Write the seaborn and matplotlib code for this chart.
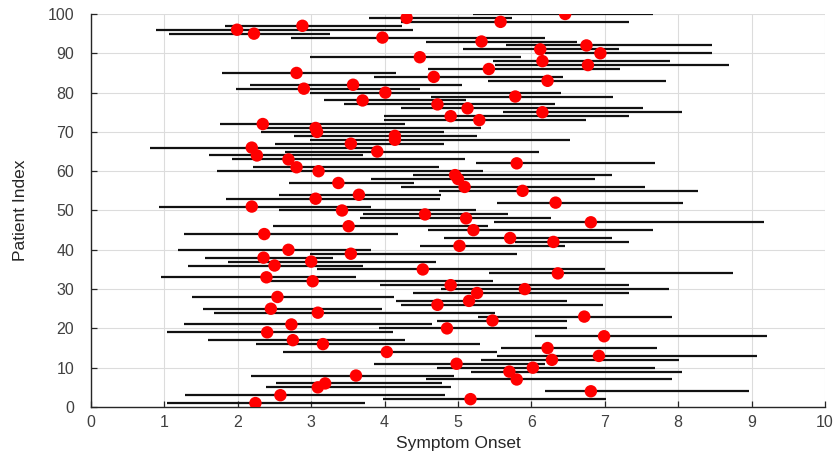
import matplotlib
matplotlib.use("Agg")
import matplotlib.pyplot as plt
import seaborn as sns
import numpy as np
import pandas as pd

# Patient index, estimated symptom onset and its uncertainty interval
patient = list(range(1, 101))
onset = [2.24, 5.17, 2.58, 6.81, 3.09, 3.19, 5.80, 3.61, 5.70, 6.02,
         4.98, 6.28, 6.92, 4.03, 6.22, 3.16, 2.75, 6.99, 2.40, 4.85,
         2.73, 5.47, 6.72, 3.09, 2.45, 4.72, 5.15, 2.54, 5.26, 5.91,
         4.90, 3.02, 2.39, 6.36, 4.52, 2.50, 3.00, 2.35, 3.54, 2.69,
         5.02, 6.30, 5.71, 2.36, 5.21, 3.51, 6.81, 5.11, 4.55, 3.42,
         2.19, 6.33, 3.06, 3.65, 5.88, 5.09, 3.37, 5.00, 4.96, 3.10,
         2.80, 5.80, 2.69, 2.26, 3.90, 2.19, 3.54, 4.14, 4.14, 3.08,
         3.06, 2.34, 5.29, 4.90, 6.15, 5.13, 4.72, 3.70, 5.78, 4.01,
         2.90, 3.57, 6.22, 4.67, 2.80, 5.42, 6.77, 6.15, 4.48, 6.94,
         6.12, 6.75, 5.32, 3.97, 2.22, 1.99, 2.88, 5.58, 4.30, 6.46]
lower = [1.03, 3.98, 1.28, 6.18, 2.39, 2.52, 4.56, 2.18, 5.18, 4.72,
         3.85, 5.32, 5.53, 2.62, 5.58, 2.25, 1.59, 6.05, 1.04, 3.92,
         1.27, 4.72, 5.27, 1.68, 1.52, 4.23, 4.15, 1.37, 4.38, 4.77,
         3.94, 2.39, 0.96, 5.42, 3.08, 1.32, 1.87, 1.55, 2.98, 1.19,
         4.48, 5.78, 4.81, 1.26, 4.59, 2.48, 5.49, 3.66, 3.70, 2.56,
         0.93, 5.53, 1.84, 2.56, 4.74, 4.23, 2.70, 3.81, 4.39, 1.72,
         2.21, 5.24, 1.92, 1.61, 2.64, 0.81, 2.51, 2.99, 2.77, 2.31,
         2.31, 1.76, 3.99, 3.99, 5.61, 4.22, 3.44, 3.17, 4.63, 2.98,
         1.97, 2.17, 5.41, 3.86, 1.78, 4.59, 5.50, 5.47, 2.99, 6.19,
         5.07, 5.66, 4.57, 2.73, 1.06, 0.88, 1.83, 4.22, 3.79, 5.20]
upper = [3.73, 7.01, 4.82, 8.97, 4.90, 4.78, 7.92, 4.95, 8.05, 7.68,
         6.19, 8.01, 9.08, 5.53, 7.71, 5.30, 4.28, 9.21, 4.12, 6.49,
         4.65, 6.49, 7.92, 5.50, 3.97, 6.98, 6.48, 4.13, 7.33, 7.87,
         7.33, 5.47, 3.61, 8.75, 7.00, 3.71, 4.70, 3.30, 5.80, 3.81,
         6.46, 7.33, 7.10, 4.18, 7.66, 5.41, 9.17, 6.27, 5.68, 5.24,
         3.81, 8.07, 4.75, 4.77, 8.27, 7.55, 4.40, 6.87, 7.10, 5.34,
         4.74, 7.68, 5.09, 3.70, 6.10, 3.90, 4.81, 6.53, 5.26, 4.81,
         5.32, 4.28, 6.75, 7.33, 8.05, 7.52, 6.32, 5.11, 7.11, 6.40,
         4.48, 5.06, 7.83, 6.43, 4.16, 7.21, 8.69, 7.89, 5.86, 8.46,
         7.20, 8.46, 6.62, 6.19, 3.26, 4.39, 4.24, 7.33, 5.73, 7.65]

x_ticks = list(range(0, 11))
y_ticks = list(range(0, 101, 10))

df = pd.DataFrame({"patient": patient, "onset": onset,
                   "lower": lower, "upper": upper})

sns.set_theme(style="white")
plt.rcParams["font.family"] = ["Liberation Sans", "DejaVu Sans"]

fig = plt.figure(figsize=(8.39, 4.59), dpi=100)
ax = fig.add_axes([0.1085, 0.1133, 0.8748, 0.8562])

# interval bars
ax.hlines(df["patient"], df["lower"], df["upper"], color="#111111",
          linewidth=1.6, zorder=2)
# point estimates
sns.scatterplot(data=df, x="onset", y="patient", ax=ax, color="#ff0000",
                s=80, edgecolor="none", zorder=3, legend=False)

ax.set_xlim(0, 10)
ax.set_ylim(0, 100)
ax.set_xticks(x_ticks)
ax.set_yticks(y_ticks)
ax.grid(True, color="#dcdcdc", linewidth=0.8)
ax.set_axisbelow(True)
for side in ("top", "right"):
    ax.spines[side].set_visible(False)
for side in ("left", "bottom"):
    ax.spines[side].set_color("#262626")
    ax.spines[side].set_linewidth(1.0)
ax.tick_params(direction="in", length=4, width=0.9, colors="#262626",
               labelsize=11.5, labelcolor="#404040", bottom=True, left=True)
ax.tick_params(axis="x", pad=6)
ax.tick_params(axis="y", pad=12)
ax.set_xlabel("Symptom Onset", fontsize=12.5, color="#262626", labelpad=4)
ax.set_ylabel("Patient Index", fontsize=12.5, color="#262626", labelpad=14)

fig.savefig("out.png", dpi=100)
